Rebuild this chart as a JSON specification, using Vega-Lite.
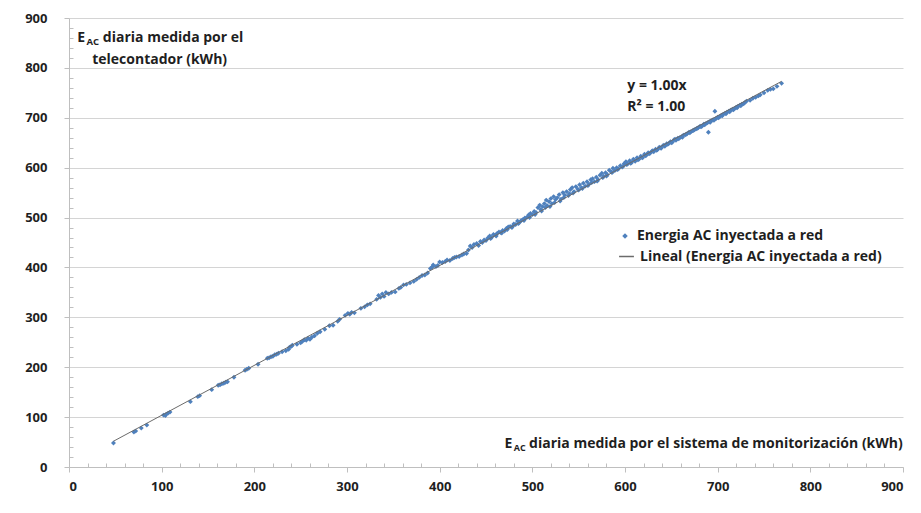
{
  "$schema": "https://vega.github.io/schema/vega-lite/v6.json",
  "width": 834,
  "height": 449,
  "autosize": {"type": "none"},
  "padding": {"left": 69, "top": 18, "right": 18, "bottom": 46},
  "background": "white",
  "config": {
    "font": "Open Sans",
    "view": {"stroke": null},
    "text": {"font": "Open Sans", "fontWeight": "bold", "fontSize": 14, "color": "#1f1f1f"}
  },
  "data": {"values": [
    {"x":48,"y":48},{"x":70,"y":70},{"x":72,"y":72},{"x":78,"y":78},{"x":84,"y":84},{"x":102,"y":104},{"x":104,"y":103},{"x":105,"y":106},{"x":107,"y":108},{"x":109,"y":110},
    {"x":131,"y":131},{"x":139,"y":141},{"x":141,"y":143},{"x":154,"y":155},{"x":161,"y":164},{"x":163,"y":165},{"x":165,"y":167},{"x":167,"y":168},{"x":169,"y":170},{"x":171,"y":171},
    {"x":178,"y":180},{"x":190,"y":194},{"x":192,"y":196},{"x":194,"y":198},{"x":204,"y":206},{"x":214,"y":218},{"x":216,"y":219},{"x":218,"y":221},{"x":220,"y":222},{"x":222,"y":225},
    {"x":224,"y":226},{"x":226,"y":228},{"x":230,"y":231},{"x":234,"y":233},{"x":237,"y":236},{"x":238,"y":240},{"x":240,"y":242},{"x":241,"y":244},{"x":246,"y":246},{"x":250,"y":249},
    {"x":252,"y":252},{"x":254,"y":255},{"x":256,"y":254},{"x":258,"y":258},{"x":260,"y":256},{"x":262,"y":260},{"x":265,"y":263},{"x":268,"y":268},{"x":271,"y":271},{"x":276,"y":276},
    {"x":281,"y":283},{"x":285,"y":284},{"x":290,"y":292},{"x":292,"y":296},
    {"x":298,"y":304},{"x":301,"y":308},{"x":303,"y":306},{"x":305,"y":310},{"x":308,"y":309},{"x":315,"y":318},{"x":319,"y":321},{"x":322,"y":325},{"x":325,"y":327},{"x":332,"y":336},
    {"x":334,"y":344},{"x":336,"y":340},{"x":338,"y":347},{"x":340,"y":342},{"x":342,"y":350},{"x":345,"y":347},{"x":348,"y":350},{"x":352,"y":351},{"x":356,"y":358},{"x":358,"y":360},
    {"x":361,"y":365},{"x":364,"y":366},{"x":368,"y":369},{"x":372,"y":372},{"x":375,"y":376},{"x":378,"y":380},{"x":381,"y":384},{"x":384,"y":385},{"x":387,"y":389},{"x":390,"y":398},
    {"x":392,"y":401},{"x":393,"y":405},{"x":396,"y":402},{"x":398,"y":404},{"x":400,"y":411},{"x":403,"y":410},{"x":406,"y":412},{"x":408,"y":415},{"x":411,"y":414},{"x":414,"y":418},
    {"x":416,"y":420},{"x":418,"y":421},{"x":421,"y":422},{"x":424,"y":425},{"x":426,"y":427},{"x":429,"y":428},{"x":431,"y":435},{"x":433,"y":443},{"x":435,"y":440},{"x":437,"y":446},
    {"x":440,"y":448},{"x":442,"y":444},
    {"x":444,"y":452},{"x":446,"y":450},{"x":448,"y":455},{"x":450,"y":454},{"x":452,"y":459},{"x":454,"y":463},{"x":456,"y":460},{"x":458,"y":466},{"x":460,"y":465},{"x":462,"y":468},
    {"x":464,"y":471},{"x":466,"y":470},{"x":468,"y":474},{"x":470,"y":473},{"x":472,"y":478},{"x":474,"y":481},{"x":476,"y":482},{"x":478,"y":480},{"x":480,"y":487},{"x":482,"y":486},
    {"x":484,"y":493},{"x":486,"y":490},{"x":488,"y":494},{"x":490,"y":496},{"x":492,"y":499},{"x":494,"y":500},{"x":496,"y":505},{"x":498,"y":508},{"x":500,"y":506},{"x":502,"y":512},
    {"x":504,"y":510},{"x":506,"y":520},{"x":508,"y":525},{"x":509,"y":516},{"x":511,"y":522},{"x":513,"y":528},{"x":515,"y":535},{"x":516,"y":524},{"x":518,"y":532},{"x":520,"y":538},
    {"x":521,"y":528},{"x":523,"y":542},{"x":525,"y":536},{"x":527,"y":540},{"x":529,"y":546},{"x":531,"y":537},{"x":533,"y":550},{"x":535,"y":545},{"x":537,"y":552},{"x":539,"y":544},
    {"x":541,"y":556},{"x":543,"y":560},{"x":545,"y":552},{"x":547,"y":562},{"x":549,"y":557},{"x":551,"y":566},{"x":553,"y":560},{"x":555,"y":569},{"x":557,"y":563},{"x":559,"y":572},
    {"x":561,"y":567},{"x":563,"y":576},{"x":565,"y":578},{"x":567,"y":572},{"x":569,"y":581},{"x":571,"y":576},{"x":573,"y":585},{"x":575,"y":589},{"x":577,"y":583},{"x":579,"y":590},
    {"x":581,"y":586},{"x":583,"y":595},{"x":585,"y":592},{"x":587,"y":599},{"x":589,"y":594},{"x":591,"y":600},{"x":593,"y":598},{"x":595,"y":604},{"x":597,"y":601},{"x":599,"y":608},
    {"x":455,"y":458},{"x":461,"y":463},{"x":467,"y":469},{"x":473,"y":476},{"x":479,"y":483},{"x":485,"y":488},{"x":491,"y":494},{"x":497,"y":500},{"x":503,"y":506},{"x":510,"y":513},
    {"x":514,"y":520},{"x":519,"y":522},{"x":524,"y":530},{"x":530,"y":533},{"x":534,"y":540},{"x":540,"y":548},{"x":544,"y":549},{"x":550,"y":555},{"x":554,"y":558},{"x":560,"y":564},
    {"x":564,"y":570},{"x":570,"y":573},{"x":576,"y":580},{"x":580,"y":583},{"x":586,"y":590},{"x":592,"y":596},{"x":598,"y":603},
    {"x":601,"y":612},{"x":603,"y":608},{"x":605,"y":614},{"x":607,"y":610},{"x":609,"y":617},{"x":611,"y":613},{"x":613,"y":620},{"x":615,"y":617},{"x":617,"y":623},{"x":619,"y":620},
    {"x":621,"y":627},{"x":623,"y":625},{"x":625,"y":630},{"x":627,"y":629},{"x":629,"y":633},{"x":631,"y":632},{"x":633,"y":637},{"x":635,"y":636},{"x":637,"y":641},{"x":639,"y":639},
    {"x":641,"y":644},{"x":643,"y":643},{"x":645,"y":648},{"x":647,"y":648},{"x":649,"y":652},{"x":651,"y":651},{"x":653,"y":656},{"x":655,"y":655},{"x":657,"y":659},{"x":659,"y":660},
    {"x":661,"y":662},{"x":663,"y":665},{"x":665,"y":666},{"x":667,"y":668},{"x":669,"y":671},{"x":671,"y":672},{"x":673,"y":674},{"x":675,"y":676},{"x":677,"y":678},{"x":679,"y":680},
    {"x":681,"y":683},{"x":683,"y":683},{"x":685,"y":687},{"x":687,"y":688},{"x":689,"y":690},{"x":690,"y":671},{"x":691,"y":692},{"x":693,"y":694},{"x":695,"y":696},{"x":697,"y":713},
    {"x":698,"y":698},{"x":700,"y":701},{"x":702,"y":702},{"x":704,"y":705},{"x":706,"y":707},{"x":708,"y":709},{"x":710,"y":711},{"x":712,"y":713},{"x":714,"y":715},{"x":716,"y":717},
    {"x":718,"y":718},{"x":720,"y":721},{"x":722,"y":723},{"x":724,"y":725},{"x":726,"y":727},{"x":728,"y":728},{"x":731,"y":733},{"x":735,"y":735},{"x":738,"y":739},{"x":741,"y":741},
    {"x":744,"y":744},{"x":746,"y":746},{"x":750,"y":750},{"x":754,"y":755},{"x":757,"y":757},{"x":760,"y":758},{"x":764,"y":763},{"x":769,"y":769},
    {"x":602,"y":606},{"x":606,"y":609},{"x":610,"y":615},{"x":614,"y":616},{"x":618,"y":621},{"x":622,"y":624},{"x":626,"y":628},{"x":630,"y":634},{"x":634,"y":635},{"x":638,"y":640},
    {"x":642,"y":645},{"x":646,"y":647},{"x":650,"y":650},{"x":654,"y":657},{"x":658,"y":658},{"x":662,"y":661},{"x":666,"y":667},{"x":670,"y":670},{"x":674,"y":675},{"x":678,"y":679},
    {"x":682,"y":682},{"x":686,"y":686},{"x":692,"y":691},{"x":696,"y":695},{"x":701,"y":700},{"x":705,"y":704},{"x":709,"y":708},{"x":713,"y":712},{"x":717,"y":716},{"x":721,"y":720},
    {"x":725,"y":724},{"x":729,"y":730}
  ]},
  "resolve": {"axis": {"x": "independent", "y": "independent"}},
  "layer": [
    {
      "mark": {"type": "point", "shape": "diamond", "filled": true, "size": 24, "opacity": 1},
      "encoding": {
        "x": {"field": "x", "type": "quantitative", "scale": {"domain": [0, 900], "nice": false},
          "axis": {"title": null, "values": [0,100,200,300,400,500,600,700,800,900], "grid": false, "domainColor": "#bfbfbf", "tickColor": "#bfbfbf", "tickSize": 5, "labelPadding": 8, "labelFont": "Open Sans", "labelFontWeight": "bold", "labelFontSize": 13, "labelColor": "#1f1f1f", "orient": "bottom"}},
        "y": {"field": "y", "type": "quantitative", "scale": {"domain": [0, 900], "nice": false},
          "axis": {"title": null, "values": [0,100,200,300,400,500,600,700,800,900], "grid": true, "gridColor": "#d4d4d4", "domainColor": "#bfbfbf", "tickColor": "#bfbfbf", "tickSize": 5, "labelPadding": 17, "labelFont": "Open Sans", "labelFontWeight": "bold", "labelFontSize": 13, "labelColor": "#1f1f1f", "orient": "left"}},
        "color": {"datum": "Energia AC inyectada a red", "type": "nominal",
          "scale": {"domain": ["Energia AC inyectada a red"], "range": ["#4F81BD"]},
          "legend": {"orient": "none", "legendX": 549, "legendY": 211, "title": null, "labelFont": "Open Sans", "labelFontSize": 14, "labelFontWeight": "bold", "labelColor": "#1f1f1f", "labelLimit": 400, "symbolType": "diamond", "symbolSize": 30, "labelOffset": 5}
        }
      }
    },
    {
      "transform": [{"regression": "y", "on": "x", "method": "linear"}],
      "mark": {"type": "line", "strokeWidth": 1},
      "encoding": {
        "x": {"field": "x", "type": "quantitative",
          "axis": {"title": null, "orient": "bottom", "values": [20,40,60,80,120,140,160,180,220,240,260,280,320,340,360,380,420,440,460,480,520,540,560,580,620,640,660,680,720,740,760,780,820,840,860,880], "labels": false, "domain": false, "grid": false, "tickSize": -4, "tickColor": "#bfbfbf"}},
        "y": {"field": "y", "type": "quantitative",
          "axis": {"title": null, "orient": "left", "values": [20,40,60,80,120,140,160,180,220,240,260,280,320,340,360,380,420,440,460,480,520,540,560,580,620,640,660,680,720,740,760,780,820,840,860,880], "labels": false, "domain": false, "grid": false, "tickSize": -4, "tickColor": "#bfbfbf"}},
        "stroke": {"datum": "Lineal (Energia AC inyectada a red)", "type": "nominal",
          "scale": {"domain": ["Lineal (Energia AC inyectada a red)"], "range": ["#6b6b6b"]},
          "legend": {"orient": "none", "legendX": 549, "legendY": 230, "title": null, "labelFont": "Open Sans", "labelFontSize": 14, "labelFontWeight": "bold", "labelColor": "#1f1f1f", "labelLimit": 400, "symbolType": "stroke", "symbolSize": 220, "symbolStrokeWidth": 1.5, "labelOffset": 5}
        }
      }
    },
    {
      "data": {"values": [{}]},
      "mark": {"type": "text", "align": "left", "baseline": "alphabetic", "fontSize": 14},
      "encoding": {"x": {"datum": 8.8, "type": "quantitative", "axis": null}, "y": {"datum": 852, "type": "quantitative", "axis": null}, "text": {"value": "E"}}
    },
    {
      "data": {"values": [{}]},
      "mark": {"type": "text", "align": "left", "baseline": "alphabetic", "fontSize": 9.5},
      "encoding": {"x": {"datum": 18.8, "type": "quantitative", "axis": null}, "y": {"datum": 846, "type": "quantitative", "axis": null}, "text": {"value": "AC"}}
    },
    {
      "data": {"values": [{}]},
      "mark": {"type": "text", "align": "left", "baseline": "alphabetic"},
      "encoding": {"x": {"datum": 36.5, "type": "quantitative", "axis": null}, "y": {"datum": 852, "type": "quantitative", "axis": null}, "text": {"value": "diaria medida por el"}}
    },
    {
      "data": {"values": [{}]},
      "mark": {"type": "text", "align": "left", "baseline": "alphabetic"},
      "encoding": {"x": {"datum": 25, "type": "quantitative", "axis": null}, "y": {"datum": 808, "type": "quantitative", "axis": null}, "text": {"value": "telecontador (kWh)"}}
    },
    {
      "data": {"values": [{}]},
      "mark": {"type": "text", "align": "left", "baseline": "alphabetic", "fontSize": 14},
      "encoding": {"x": {"datum": 470, "type": "quantitative", "axis": null}, "y": {"datum": 38, "type": "quantitative", "axis": null}, "text": {"value": "E"}}
    },
    {
      "data": {"values": [{}]},
      "mark": {"type": "text", "align": "left", "baseline": "alphabetic", "fontSize": 9},
      "encoding": {"x": {"datum": 480, "type": "quantitative", "axis": null}, "y": {"datum": 32, "type": "quantitative", "axis": null}, "text": {"value": "AC"}}
    },
    {
      "data": {"values": [{}]},
      "mark": {"type": "text", "align": "left", "baseline": "alphabetic", "fontSize": 14},
      "encoding": {"x": {"datum": 496.5, "type": "quantitative", "axis": null}, "y": {"datum": 38, "type": "quantitative", "axis": null}, "text": {"value": "diaria medida por el sistema de monitorización (kWh)"}}
    },
    {
      "data": {"values": [{}]},
      "mark": {"type": "text", "align": "left", "baseline": "alphabetic"},
      "encoding": {"x": {"datum": 602.5, "type": "quantitative", "axis": null}, "y": {"datum": 756, "type": "quantitative", "axis": null}, "text": {"value": "y = 1.00x"}}
    },
    {
      "data": {"values": [{}]},
      "mark": {"type": "text", "align": "left", "baseline": "alphabetic"},
      "encoding": {"x": {"datum": 602.5, "type": "quantitative", "axis": null}, "y": {"datum": 714, "type": "quantitative", "axis": null}, "text": {"value": "R² = 1.00"}}
    }
  ]
}
